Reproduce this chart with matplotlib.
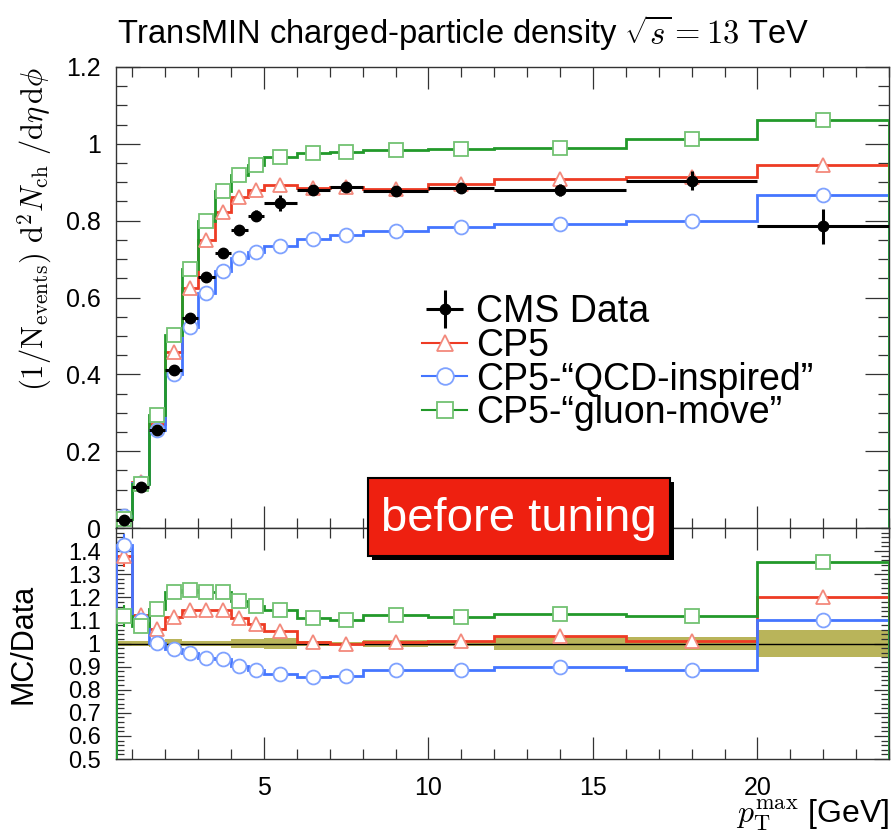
import numpy as np
import matplotlib
matplotlib.use("Agg")
import matplotlib.pyplot as plt
from matplotlib.ticker import MultipleLocator, FuncFormatter
from matplotlib.patches import Rectangle
from matplotlib.lines import Line2D

plt.rcParams['font.family'] = ['Liberation Sans', 'DejaVu Sans']
plt.rcParams['mathtext.fontset'] = 'cm'

# ---------------- data ----------------
bin_edges = [0.5, 1, 1.5, 2, 2.5, 3, 3.5, 4, 4.5, 5, 6, 7, 8, 10, 12, 16, 20, 24]
data_vals = [0.021, 0.106, 0.255, 0.411, 0.546, 0.654, 0.717, 0.776, 0.813, 0.846,
             0.879, 0.887, 0.876, 0.886, 0.879, 0.904, 0.785]
data_err = [0.004, 0.004, 0.005, 0.006, 0.007, 0.008, 0.009, 0.012, 0.015, 0.020,
            0.008, 0.008, 0.006, 0.008, 0.016, 0.025, 0.045]
data_band = [0.010, 0.010, 0.015, 0.020, 0.010, 0.010, 0.010, 0.020, 0.020, 0.022,
             0.010, 0.008, 0.015, 0.010, 0.028, 0.028, 0.058]
cp5_vals = [0.029, 0.119, 0.271, 0.458, 0.626, 0.750, 0.822, 0.861, 0.881, 0.892,
            0.885, 0.887, 0.882, 0.896, 0.908, 0.914, 0.944]
qcd_vals = [0.030, 0.117, 0.256, 0.402, 0.523, 0.612, 0.668, 0.702, 0.718, 0.734,
            0.753, 0.763, 0.774, 0.784, 0.791, 0.800, 0.866]
gluon_vals = [0.0235, 0.114, 0.293, 0.502, 0.673, 0.799, 0.878, 0.920, 0.944, 0.967,
              0.976, 0.978, 0.985, 0.987, 0.990, 1.012, 1.061]
cp5_err = [0.001] * 15 + [0.004, 0.008]
qcd_err = [0.001] * 15 + [0.004, 0.008]
gluon_err = [0.001] * 15 + [0.008, 0.016]

series = [
    ("CP5", cp5_vals, cp5_err, "#ee3b24", "#f3897c", "^"),
    ("CP5-\u201cQCD-inspired\u201d", qcd_vals, qcd_err, "#4475ff", "#7fa2ff", "o"),
    ("CP5-\u201cgluon-move\u201d", gluon_vals, gluon_err, "#22992a", "#72c272", "s"),
]

edges = np.array(bin_edges)
centers = 0.5 * (edges[1:] + edges[:-1])
halfw = 0.5 * (edges[1:] - edges[:-1])
data = np.array(data_vals)

W, H = 892, 833
fig = plt.figure(figsize=(W / 100, H / 100), dpi=100)
L, R = 116, 889
ax = fig.add_axes([L / W, 1 - 528 / H, (R - L) / W, (528 - 67) / H])
rax = fig.add_axes([L / W, 1 - 759 / H, (R - L) / W, (759 - 528) / H], sharex=ax)

# ---------------- top panel ----------------
handles = []
dh = ax.errorbar(centers, data, xerr=halfw, yerr=data_err, fmt='o', color='black',
                 ms=7.5, elinewidth=2.2, capsize=0, zorder=6)
handles.append(dh)
labels = ["CMS Data"]
for name, vals, errs, col, mcol, mk in series:
    ax.stairs(vals, edges, color=col, lw=2.0, zorder=3)
    ax.errorbar(centers, vals, yerr=errs, fmt='none', ecolor=col, elinewidth=1.5, zorder=4)
    ax.plot(centers, vals, ls='none', marker=mk, ms=10, mfc='white', mec=mcol, mew=1.3, zorder=5)
    handles.append(Line2D([], [], color=col, lw=1.5, marker=mk, ms=12, mfc='white', mec=mcol, mew=1.3))
    labels.append(name)

ax.set_xlim(0.5, 24)
ax.set_ylim(0, 1.2)
ax.yaxis.set_major_locator(MultipleLocator(0.2))
ax.yaxis.set_minor_locator(MultipleLocator(0.05))
ax.xaxis.set_major_locator(MultipleLocator(5))
ax.xaxis.set_minor_locator(MultipleLocator(1))
ax.yaxis.set_major_formatter(FuncFormatter(lambda v, p: "%g" % round(v, 3)))
ax.tick_params(which='both', direction='in', top=True, right=True, labelbottom=False,
               width=0.9, color='#333333', labelsize=18, pad=11)
ax.tick_params(axis='y', which='major', length=17)
ax.tick_params(axis='y', which='minor', length=8)
ax.tick_params(axis='x', which='major', length=16)
ax.tick_params(axis='x', which='minor', length=7)
ax.set_ylabel(r"$(1/\mathrm{N}_{\mathrm{events}})\ \mathrm{d}^{2}N_{\mathrm{ch}}\ /\mathrm{d}\eta\,\mathrm{d}\phi$",
              fontsize=22, ha='right', y=1.0)
ax.yaxis.set_label_coords(-0.080, 1.0)

leg = ax.legend(handles, labels, loc='upper left', bbox_to_anchor=(422 / W, 1 - 294 / H),
                bbox_transform=fig.transFigure, frameon=False, fontsize=27,
                handlelength=1.2, handletextpad=0.25, labelspacing=-0.06,
                borderpad=0, borderaxespad=0)

# ---------------- ratio panel ----------------
band = np.array(data_band)
rax.stairs(1 + band, edges, baseline=1 - band, fill=True, color='#b9b45a', lw=0, zorder=1)
rax.axhline(1.0, color='black', lw=1.0, zorder=2)
for name, vals, errs, col, mcol, mk in series:
    ratio = np.array(vals) / data
    rerr = np.array(errs) / data
    rax.stairs(ratio, edges, color=col, lw=2.0, zorder=3)
    rax.errorbar(centers, ratio, yerr=rerr, fmt='none', ecolor=col, elinewidth=1.5, zorder=4)
    rax.plot(centers, ratio, ls='none', marker=mk, ms=10, mfc='white', mec=mcol, mew=1.3, zorder=5)

rax.set_ylim(0.5, 1.5)
rax.set_yticks(np.arange(0.5, 1.45, 0.1))
rax.yaxis.set_minor_locator(MultipleLocator(0.02))
rax.yaxis.set_major_formatter(FuncFormatter(lambda v, p: "%g" % round(v, 3)))
rax.tick_params(which='both', direction='in', top=True, right=True,
                width=0.9, color='#333333', labelsize=17, pad=11)
rax.tick_params(axis='x', labelsize=18, pad=12)
rax.tick_params(axis='y', which='major', length=11)
rax.tick_params(axis='y', which='minor', length=6)
rax.tick_params(axis='x', which='major', length=16)
rax.tick_params(axis='x', which='minor', length=7)
rax.set_ylabel("MC/Data", fontsize=22)
rax.yaxis.set_label_coords(-0.100, 0.5)
rax.set_xlabel(r"$p_{\mathrm{T}}^{\mathrm{max}}$ [GeV]", fontsize=23, ha='right', x=1.0)
rax.xaxis.set_label_coords(1.0, -0.17)

for a in (ax, rax):
    for s in a.spines.values():
        s.set_color('#333333')
        s.set_linewidth(1.0)

# ---------------- title ----------------
fig.text(117 / W, 1 - 33 / H, r"TransMIN charged-particle density $\sqrt{s}=13$ TeV",
         fontsize=23.5, ha='left', va='center')

# ---------------- "before tuning" box ----------------
bx, by, bw, bh = 368, 478, 302, 78
fig.add_artist(Rectangle(((bx + 4) / W, 1 - (by + bh + 4) / H), bw / W, bh / H,
                         transform=fig.transFigure, facecolor='black', edgecolor='none', zorder=20))
fig.add_artist(Rectangle((bx / W, 1 - (by + bh) / H), bw / W, bh / H,
                         transform=fig.transFigure, facecolor='#ee2010', edgecolor='black',
                         lw=1.5, zorder=21))
fig.text((bx + bw / 2) / W, 1 - (by + bh / 2 + 2) / H, "before tuning", color='white',
         fontsize=34, ha='center', va='center', zorder=22)

fig.savefig("out.png", dpi=100)
